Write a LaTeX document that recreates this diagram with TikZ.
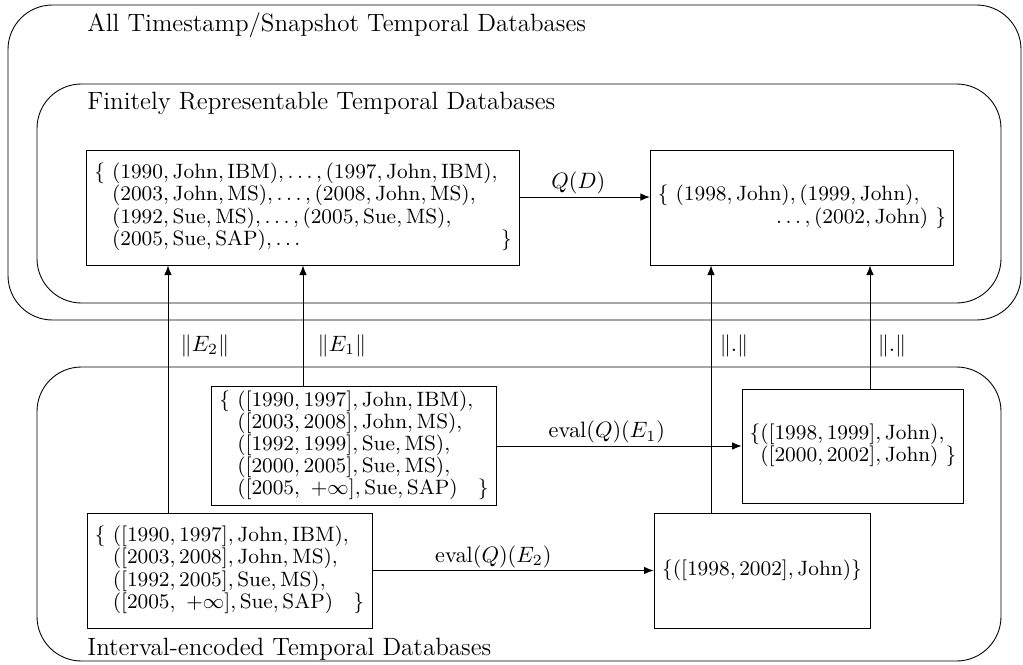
\RequirePackage{fix-cm}
\documentclass[tikz,border=0pt]{standalone}
\usetikzlibrary{arrows.meta,calc}
\begin{document}
\begin{tikzpicture}[x=0.45pt,y=-0.45pt,
  region/.style={draw, rounded corners=20pt},
  dbox/.style={draw, inner xsep=3.4pt, inner ysep=2pt, font=\fontsize{9.35}{12.4}\selectfont\def\arraystretch{0.8}},
  arr/.style={-{Latex[length=4.3pt,width=3.4pt]}},
  title/.style={anchor=base west, inner sep=0pt, font=\fontsize{11.25}{13}\selectfont},
  lab/.style={inner sep=1pt, font=\fontsize{10}{12}\selectfont}]
\useasboundingbox (0,0) rectangle (1023,665);
% regions
\draw[region] (8,5) rectangle (1021,320);
\draw[region] (37,84) rectangle (1001,303);
\draw[region] (37,367) rectangle (1001,661);
\node[title] (t1) at (87,32) {All Timestamp/Snapshot Temporal Databases};
\node[title] (t2) at (87,110) {Finitely Representable Temporal Databases};
\node[title] (t3) at (87,655) {Interval-encoded Temporal Databases};
% boxes
\node[dbox, minimum width=194.4pt, minimum height=51.75pt] (A) at (303,207.5) {%
\begin{tabular}{@{}l@{\ }l@{\hspace{1.5pt}}l@{}}
$\{$ & $(1990,\mathrm{John},\mathrm{IBM}),\ldots,(1997,\mathrm{John},\mathrm{IBM}),$ & \\
 & $(2003,\mathrm{John},\mathrm{MS}),\ldots,(2008,\mathrm{John},\mathrm{MS}),$ & \\
 & $(1992,\mathrm{Sue},\mathrm{MS}),\ldots,(2005,\mathrm{Sue},\mathrm{MS}),$ & \\
 & $(2005,\mathrm{Sue},\mathrm{SAP}),\ldots$ & $\}$
\end{tabular}};
\node[dbox, minimum width=133.2pt, minimum height=51.75pt] (B) at (802,207.5) {%
\begin{tabular}{@{}l@{}l@{}}
$\{\ (1998,\mathrm{John}),(1999,\mathrm{John}),$ & \hspace{12pt} \\
\multicolumn{2}{@{}r@{}}{$\ldots,(2002,\mathrm{John})\ \}$}
\end{tabular}};
\node[dbox, minimum width=127.8pt, minimum height=51.3pt] (C) at (354,446) {%
\begin{tabular}{@{}l@{\ }l@{\hspace{2pt}}l@{}}
$\{$ & $([1990,1997],\mathrm{John},\mathrm{IBM}),$ & \\
 & $([2003,2008],\mathrm{John},\mathrm{MS}),$ & \\
 & $([1992,1999],\mathrm{Sue},\mathrm{MS}),$ & \\
 & $([2000,2005],\mathrm{Sue},\mathrm{MS}),$ & \\
 & $([2005,\ +\infty],\mathrm{Sue},\mathrm{SAP})$ & $\}$
\end{tabular}};
\node[dbox, minimum width=97.2pt, minimum height=51.3pt] (D) at (853,446) {%
\begin{tabular}{@{}l@{}l@{}}
$\{$ & $([1998,1999],\mathrm{John}),$ \\
 & $([2000,2002],\mathrm{John})\ \}$
\end{tabular}};
\node[dbox, minimum width=128.25pt, minimum height=51.75pt] (E) at (229.5,570.5) {%
\begin{tabular}{@{}l@{\ }l@{\hspace{2pt}}l@{}}
$\{$ & $([1990,1997],\mathrm{John},\mathrm{IBM}),$ & \\
 & $([2003,2008],\mathrm{John},\mathrm{MS}),$ & \\
 & $([1992,2005],\mathrm{Sue},\mathrm{MS}),$ & \\
 & $([2005,\ +\infty],\mathrm{Sue},\mathrm{SAP})$ & $\}$
\end{tabular}};
\node[dbox, minimum width=97.2pt, minimum height=51.75pt] (F) at (762,570.5) {$\{([1998,2002],\mathrm{John})\}$};
% horizontal arrows
\draw[arr] ([yshift=4.7pt]A.east) -- node[lab, above, pos=0.45] (lqd) {$Q(D)$} ([yshift=4.7pt]B.west);
\draw[arr] (C.east) -- node[lab, above, pos=0.45] (le1) {$\mathrm{eval}(Q)(E_1)$} (D.west);
\draw[arr] (E.east) -- node[lab, above, pos=0.43] (le2) {$\mathrm{eval}(Q)(E_2)$} (F.west);
% vertical arrows
\coordinate (x1) at (168,0);
\coordinate (x2) at (303,0);
\coordinate (x3) at (711,0);
\coordinate (x4) at (870,0);
\draw[arr] (E.north -| x1) -- (A.south -| x1);
\draw[arr] (C.north -| x2) -- (A.south -| x2);
\draw[arr] (F.north -| x3) -- (B.south -| x3);
\draw[arr] (D.north -| x4) -- (B.south -| x4);
\node[lab] (n1) at (205,346) {$\|E_2\|$};
\node[lab] (n2) at (342,346) {$\|E_1\|$};
\node[lab] (n3) at (734,346) {$\|.\|$};
\node[lab] (n4) at (892,346) {$\|.\|$};
\end{tikzpicture}
\end{document}
